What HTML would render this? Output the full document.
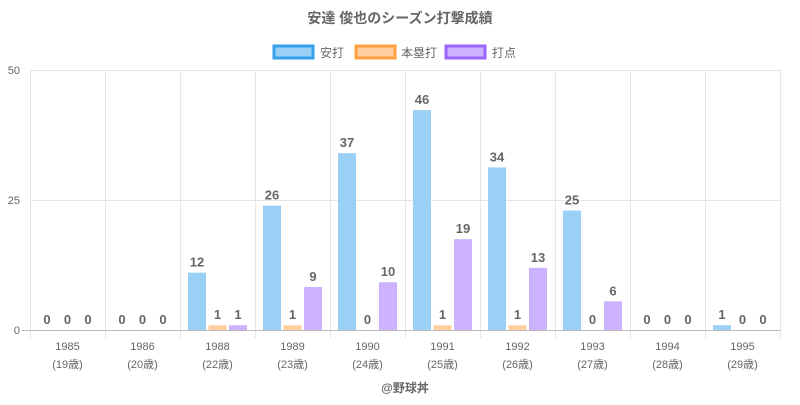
<!DOCTYPE html>
<html><head><meta charset="utf-8"><style>
body{margin:0;background:#fff}
text{font-family:"Liberation Sans","Noto Sans CJK JP",sans-serif}
</style></head><body>
<svg width="800" height="400" xmlns="http://www.w3.org/2000/svg">
<text x="400" y="23" text-anchor="middle" font-size="14" font-weight="bold" fill="#666">安達 俊也のシーズン打撃成績</text>
<g font-size="12" fill="#666">
<rect x="274" y="46" width="39" height="12" fill="#9ad0f5" stroke="#36a2eb" stroke-width="3"/><text x="320" y="57">安打</text>
<rect x="356" y="46" width="39" height="12" fill="#ffcf9f" stroke="#ff9f40" stroke-width="3"/><text x="401" y="57">本塁打</text>
<rect x="446" y="46" width="39" height="12" fill="#ccb2ff" stroke="#9966ff" stroke-width="3"/><text x="492" y="57">打点</text>
</g>
<g stroke="#e5e5e5" stroke-width="1">
<line x1="30" y1="70.5" x2="780" y2="70.5"/><line x1="30" y1="200.5" x2="780" y2="200.5"/>
<line x1="30.5" y1="70" x2="30.5" y2="338"/><line x1="105.5" y1="70" x2="105.5" y2="338"/><line x1="180.5" y1="70" x2="180.5" y2="338"/><line x1="255.5" y1="70" x2="255.5" y2="338"/><line x1="330.5" y1="70" x2="330.5" y2="338"/><line x1="405.5" y1="70" x2="405.5" y2="338"/><line x1="480.5" y1="70" x2="480.5" y2="338"/><line x1="555.5" y1="70" x2="555.5" y2="338"/><line x1="630.5" y1="70" x2="630.5" y2="338"/><line x1="705.5" y1="70" x2="705.5" y2="338"/><line x1="780.5" y1="70" x2="780.5" y2="338"/>
</g>
<line x1="22" y1="330.5" x2="780" y2="330.5" stroke="#bbb"/>
<g font-size="11" fill="#666" text-anchor="end"><text x="20" y="74">50</text><text x="20" y="204">25</text><text x="20" y="334">0</text></g>
<g id="bars"></g>
<g id="labels" font-size="13" font-weight="bold" fill="#666" text-anchor="middle"></g>
<g id="xl" font-size="11" fill="#666" text-anchor="middle"></g>
<text x="405" y="392" text-anchor="middle" font-size="12" font-weight="bold" fill="#666">@野球丼</text>
</svg>
<script>
var d=[["1985",19,0,0,0],["1986",20,0,0,0],["1988",22,12,1,1],["1989",23,26,1,9],["1990",24,37,0,10],["1991",25,46,1,19],["1992",26,34,1,13],["1993",27,25,0,6],["1994",28,0,0,0],["1995",29,1,0,0]];
var fills=["#9ad0f5","#ffcf9f","#ccb2ff"],ns="http://www.w3.org/2000/svg";
var B=document.getElementById("bars"),L=document.getElementById("labels"),X=document.getElementById("xl");
function el(p,t,a,s){var e=document.createElementNS(ns,t);for(var k in a)e.setAttribute(k,a[k]);if(s!=null)e.textContent=s;p.appendChild(e);}
d.forEach(function(r,i){var x0=30+75*i;
for(var j=0;j<3;j++){var v=r[2+j],h=v*4.78,x=x0+8+j*20.5;
if(v>0)el(B,"rect",{x:x,y:330-h,width:18,height:h,fill:fills[j]});
el(L,"text",{x:x+9,y:330-h-6},v);}
el(X,"text",{x:x0+37.5,y:350},r[0]);el(X,"text",{x:x0+37.5,y:368},"("+r[1]+"歳)");});
</script>
</body></html>
